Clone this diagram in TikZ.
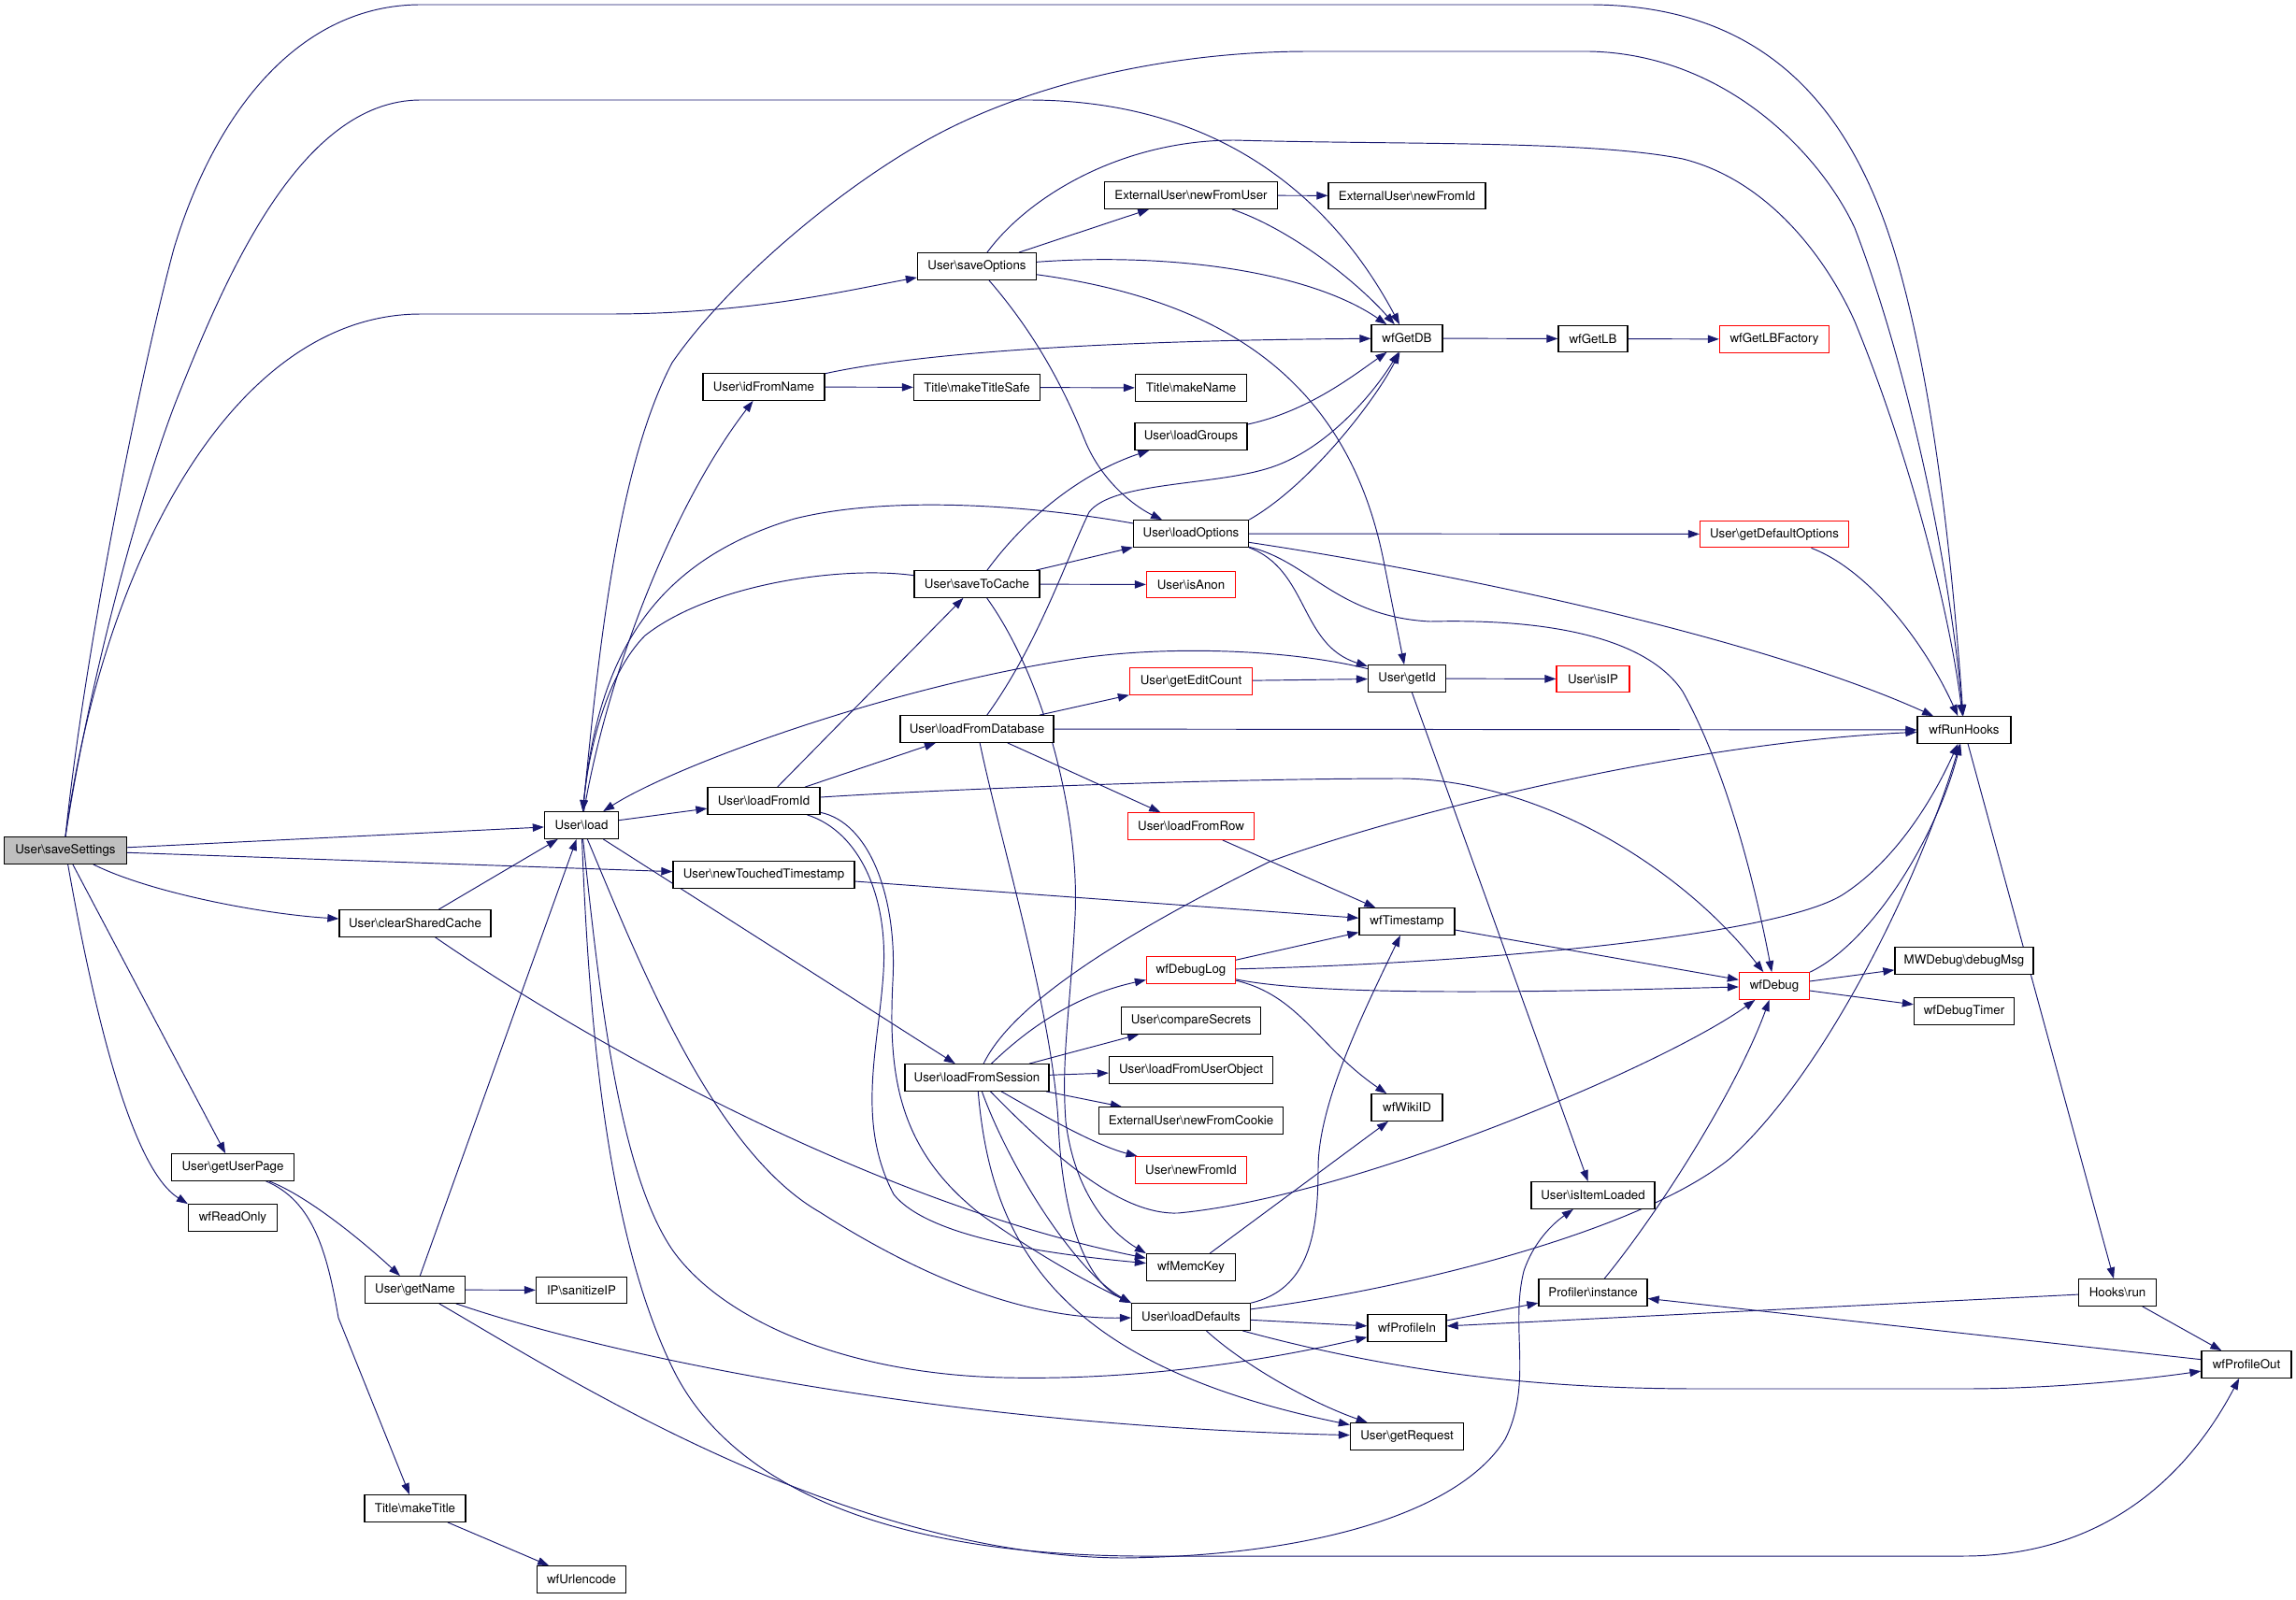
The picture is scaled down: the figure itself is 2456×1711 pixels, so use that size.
\documentclass[tikz,border=0pt]{standalone}
\usepackage{fontspec}
\setmainfont{TeX Gyre Heros}
\usetikzlibrary{arrows.meta,backgrounds}
\definecolor{edgeblue}{HTML}{191970}
\definecolor{boxred}{HTML}{FF0000}
\definecolor{rootgrey}{HTML}{BFBFBF}
\newcommand{\bksl}{\textbackslash}
\tikzset{
  fn/.style={draw=black, line width=1.3pt, fill=white, minimum height=28.5pt, inner sep=1pt, font=\fontsize{13.3}{16}\selectfont},
  fntrunc/.style={fn, draw=boxred},
  fnroot/.style={fn, fill=rootgrey},
  call/.style={edgeblue, line width=0.95pt, -{Triangle[length=12pt,width=8.5pt]}},
}
\begin{document}
\begin{tikzpicture}[x=1pt, y=-1pt]
\useasboundingbox (0,0) rectangle (2456,1711);
% functions, one column per call depth
\node[fnroot, minimum width=131pt] (saveSettings) at (70,910) {User\bksl saveSettings};
\node[fn, minimum width=131pt] (getUserPage) at (249,1249) {User\bksl getUserPage};
\node[fn, minimum width=95pt] (wfReadOnly) at (249,1303) {wfReadOnly};
\node[fn, minimum width=162pt] (clearSharedCache) at (444,988) {User\bksl clearSharedCache};
\node[fn, minimum width=107pt] (getName) at (444,1380) {User\bksl getName};
\node[fn, minimum width=108pt] (makeTitle) at (444,1614) {Title\bksl makeTitle};
\node[fn, minimum width=79pt] (load) at (622,883) {User\bksl load};
\node[fn, minimum width=97pt] (sanitizeIP) at (622,1380.5) {IP\bksl sanitizeIP};
\node[fn, minimum width=95pt] (wfUrlencode) at (622,1690) {wfUrlencode};
\node[fn, minimum width=130pt] (idFromName) at (817,414) {User\bksl idFromName};
\node[fn, minimum width=120pt] (loadFromId) at (817,857) {User\bksl loadFromId};
\node[fn, minimum width=194pt] (newTouchedTimestamp) at (817,936) {User\bksl newTouchedTimestamp};
\node[fn, minimum width=127pt] (saveOptions) at (1045,285) {User\bksl saveOptions};
\node[fn, minimum width=135pt] (makeTitleSafe) at (1045,414.5) {Title\bksl makeTitleSafe};
\node[fn, minimum width=134pt] (saveToCache) at (1045,625) {User\bksl saveToCache};
\node[fn, minimum width=164pt] (loadFromDatabase) at (1045,780) {User\bksl loadFromDatabase};
\node[fn, minimum width=154pt] (loadFromSession) at (1045,1153) {User\bksl loadFromSession};
\node[fn, minimum width=185pt] (newFromUser) at (1274,209) {ExternalUser\bksl newFromUser};
\node[fn, minimum width=119pt] (makeName) at (1274,415) {Title\bksl makeName};
\node[fn, minimum width=120pt] (loadGroups) at (1274,467) {User\bksl loadGroups};
\node[fn, minimum width=123pt] (loadOptions) at (1274,571) {User\bksl loadOptions};
\node[fntrunc, minimum width=95pt] (isAnon) at (1274,625.5) {User\bksl isAnon};
\node[fntrunc, minimum width=131pt] (getEditCount) at (1274,729) {User\bksl getEditCount};
\node[fntrunc, minimum width=135pt] (loadFromRow) at (1274,884) {User\bksl loadFromRow};
\node[fntrunc, minimum width=95pt] (wfDebugLog) at (1274,1038) {wfDebugLog};
\node[fn, minimum width=149pt] (compareSecrets) at (1274,1092) {User\bksl compareSecrets};
\node[fn, minimum width=175pt] (loadFromUserObject) at (1274,1145) {User\bksl loadFromUserObject};
\node[fn, minimum width=197pt] (newFromCookie) at (1274,1199) {ExternalUser\bksl newFromCookie};
\node[fntrunc, minimum width=119pt] (newFromIdU) at (1274,1252) {User\bksl newFromId};
\node[fn, minimum width=95pt] (wfMemcKey) at (1274,1356) {wfMemcKey};
\node[fn, minimum width=127pt] (loadDefaults) at (1274,1409) {User\bksl loadDefaults};
\node[fn, minimum width=168pt] (extNewFromId) at (1505,209.5) {ExternalUser\bksl newFromId};
\node[fn, minimum width=76pt] (wfGetDB) at (1505,362) {wfGetDB};
\node[fn, minimum width=83pt] (getId) at (1505,726) {User\bksl getId};
\node[fn, minimum width=102pt] (wfTimestamp) at (1505,986) {wfTimestamp};
\node[fn, minimum width=76pt] (wfWikiID) at (1505,1185) {wfWikiID};
\node[fn, minimum width=84pt] (wfProfileIn) at (1505,1421) {wfProfileIn};
\node[fn, minimum width=121pt] (getRequest) at (1505,1537) {User\bksl getRequest};
\node[fn, minimum width=74pt] (wfGetLB) at (1704,362.5) {wfGetLB};
\node[fntrunc, minimum width=78pt] (isIP) at (1704,726.5) {User\bksl isIP};
\node[fn, minimum width=132pt] (isItemLoaded) at (1704,1279) {User\bksl isItemLoaded};
\node[fn, minimum width=116pt] (profInstance) at (1704,1383) {Profiler\bksl instance};
\node[fntrunc, minimum width=117pt] (wfGetLBFactory) at (1898,363) {wfGetLBFactory};
\node[fntrunc, minimum width=159pt] (getDefaultOptions) at (1898,571.5) {User\bksl getDefaultOptions};
\node[fntrunc, minimum width=75pt] (wfDebug) at (1898,1055) {wfDebug};
\node[fn, minimum width=100pt] (wfRunHooks) at (2101,781) {wfRunHooks};
\node[fn, minimum width=148pt] (debugMsg) at (2101,1028) {MWDebug\bksl debugMsg};
\node[fn, minimum width=107pt] (wfDebugTimer) at (2101,1082) {wfDebugTimer};
\node[fn, minimum width=83pt] (hooksRun) at (2265,1383) {Hooks\bksl run};
\node[fn, minimum width=96pt] (wfProfileOut) at (2403,1460) {wfProfileOut};

\begin{scope}[on background layer]
\fill[white] (0,0) rectangle (2456,1711);
% saveSettings
\draw[call] (saveSettings) -- (load);
\draw[call] (saveSettings) -- (newTouchedTimestamp);
\draw[call] (saveSettings) .. controls (160,955) and (280,978) .. (clearSharedCache);
\draw[call] (saveSettings) -- (getUserPage);
\draw[call] (saveSettings) .. controls (100,1080) and (140,1250) .. (wfReadOnly.north west);
\draw[call] (saveSettings.north) .. controls (110,600) and (250,336) .. (450,336) -- (650,336) .. controls (800,336) and (900,312) .. (saveOptions);
\draw[call] (saveSettings.north) .. controls (100,700) and (160,500) .. (190,425) .. controls (240,300) and (320,107) .. (450,107) -- (1100,107) .. controls (1330,107) and (1440,240) .. (wfGetDB);
\draw[call] (saveSettings.north) .. controls (90,700) and (150,400) .. (186,266) .. controls (230,120) and (320,5) .. (450,5) -- (1700,5) .. controls (1900,5) and (1990,130) .. (2034,296) .. controls (2070,430) and (2088,600) .. (wfRunHooks);
% load
\draw[call] (load) .. controls (640,700) and (660,500) .. (719,388) .. controls (780,300) and (900,200) .. (995,148) .. controls (1100,90) and (1250,55) .. (1400,55) -- (1700,55) .. controls (1850,58) and (1950,170) .. (1984,244) .. controls (2040,390) and (2085,600) .. (wfRunHooks);
\draw[call] (load) .. controls (650,720) and (720,540) .. (idFromName);
\draw[call] (load) -- (loadFromId);
\draw[call] (load) -- (loadFromSession);
\draw[call] (load) .. controls (680,1020) and (760,1230) .. (877,1297) .. controls (960,1350) and (1080,1412) .. (loadDefaults);
\draw[call] (load) .. controls (640,1050) and (660,1250) .. (719,1337) .. controls (770,1410) and (900,1470) .. (1074,1474) .. controls (1250,1478) and (1400,1445) .. (wfProfileIn);
\draw[call] (load) .. controls (630,1100) and (650,1320) .. (719,1463) .. controls (780,1590) and (950,1664) .. (1220,1665) -- (2100,1665) .. controls (2250,1665) and (2340,1580) .. (wfProfileOut);
% left columns
\draw[call] (clearSharedCache) -- (load);
\draw[call] (clearSharedCache) .. controls (650,1130) and (950,1290) .. (wfMemcKey);
\draw[call] (getUserPage) .. controls (330,1280) and (390,1330) .. (getName);
\draw[call] (getUserPage) .. controls (335,1285) and (350,1340) .. (362,1410) -- (makeTitle);
\draw[call] (makeTitle) -- (wfUrlencode);
\draw[call] (getName) -- (load);
\draw[call] (getName) -- (sanitizeIP);
\draw[call] (getName) .. controls (650,1450) and (1000,1525) .. (getRequest);
\draw[call] (getName) .. controls (600,1470) and (900,1664) .. (1200,1667) .. controls (1400,1665) and (1560,1620) .. (1610,1540) .. controls (1640,1480) and (1615,1420) .. (1630,1360) .. controls (1640,1330) and (1660,1310) .. (isItemLoaded);
\draw[call] (idFromName) .. controls (950,385) and (1100,365) .. (wfGetDB);
\draw[call] (idFromName) -- (makeTitleSafe);
\draw[call] (makeTitleSafe) -- (makeName);
% loadFromId
\draw[call] (loadFromId) -- (saveToCache);
\draw[call] (loadFromId) -- (loadFromDatabase);
\draw[call] (loadFromId) .. controls (1000,845) and (1300,833) .. (1500,833) .. controls (1650,835) and (1800,930) .. (wfDebug);
\draw[call] (loadFromId) .. controls (920,890) and (950,960) .. (945,1040) .. controls (940,1120) and (915,1200) .. (956,1278) .. controls (990,1320) and (1100,1340) .. (wfMemcKey);
\draw[call] (loadFromId) .. controls (930,880) and (960,960) .. (955,1050) .. controls (950,1150) and (960,1230) .. (1050,1300) .. controls (1120,1350) and (1180,1380) .. (loadDefaults.north west);
% loadFromDatabase
\draw[call] (loadFromDatabase) .. controls (1110,690) and (1140,600) .. (1165,548) .. controls (1190,515) and (1300,520) .. (1360,500) .. controls (1420,480) and (1470,420) .. (wfGetDB);
\draw[call] (loadFromDatabase) -- (getEditCount);
\draw[call] (loadFromDatabase) -- (wfRunHooks);
\draw[call] (loadFromDatabase) -- (loadFromRow);
\draw[call] (loadFromDatabase) .. controls (1070,900) and (1125,1080) .. (1132,1200) .. controls (1136,1300) and (1160,1370) .. (loadDefaults.north west);
% saveToCache
\draw[call] (saveToCache) .. controls (900,605) and (760,625) .. (690,680) .. controls (650,720) and (630,800) .. (load);
\draw[call] (saveToCache) .. controls (1100,550) and (1160,505) .. (loadGroups);
\draw[call] (saveToCache) -- (loadOptions);
\draw[call] (saveToCache) -- (isAnon);
\draw[call] (saveToCache) .. controls (1120,730) and (1155,880) .. (1150,980) .. controls (1145,1080) and (1135,1130) .. (1140,1200) .. controls (1150,1280) and (1190,1320) .. (wfMemcKey.north west);
% saveOptions
\draw[call] (saveOptions) .. controls (1100,210) and (1200,150) .. (1320,150) .. controls (1500,155) and (1700,150) .. (1800,170) .. controls (1900,195) and (1960,290) .. (1984,344) .. controls (2040,480) and (2085,650) .. (wfRunHooks);
\draw[call] (saveOptions) -- (newFromUser);
\draw[call] (saveOptions) .. controls (1250,270) and (1400,290) .. (wfGetDB);
\draw[call] (saveOptions) .. controls (1300,320) and (1440,400) .. (1480,600) -- (getId);
\draw[call] (saveOptions) .. controls (1110,360) and (1140,420) .. (1160,470) .. controls (1180,520) and (1220,545) .. (loadOptions);
\draw[call] (newFromUser) -- (extNewFromId);
\draw[call] (newFromUser) .. controls (1380,245) and (1450,300) .. (wfGetDB);
\draw[call] (wfGetDB) -- (wfGetLB);
\draw[call] (wfGetLB) -- (wfGetLBFactory);
\draw[call] (loadGroups) .. controls (1400,440) and (1450,400) .. (wfGetDB);
% loadOptions
\draw[call] (loadOptions) .. controls (1100,540) and (950,530) .. (850,555) .. controls (700,600) and (640,700) .. (load);
\draw[call] (loadOptions.north east) .. controls (1400,520) and (1470,430) .. (wfGetDB);
\draw[call] (loadOptions) -- (getDefaultOptions);
\draw[call] (loadOptions) .. controls (1600,620) and (1900,690) .. (wfRunHooks);
\draw[call] (loadOptions) .. controls (1400,600) and (1430,660) .. (1530,665) .. controls (1650,662) and (1760,680) .. (1800,740) .. controls (1850,830) and (1880,960) .. (wfDebug);
\draw[call] (loadOptions.south east) .. controls (1400,610) and (1390,690) .. (getId);
% getId
\draw[call] (getId) .. controls (1380,695) and (1250,690) .. (1150,705) .. controls (950,735) and (720,820) .. (load);
\draw[call] (getId) -- (isIP);
\draw[call] (getId) -- (isItemLoaded);
\draw[call] (getEditCount) -- (getId);
% timestamps
\draw[call] (newTouchedTimestamp) -- (wfTimestamp);
\draw[call] (loadFromRow) -- (wfTimestamp);
\draw[call] (wfTimestamp) -- (wfDebug);
% loadFromSession
\draw[call] (loadFromSession) .. controls (1080,1080) and (1180,1010) .. (1358,922) .. controls (1500,870) and (1800,795) .. (wfRunHooks);
\draw[call] (loadFromSession) .. controls (1100,1100) and (1150,1065) .. (wfDebugLog);
\draw[call] (loadFromSession) -- (compareSecrets);
\draw[call] (loadFromSession) -- (loadFromUserObject);
\draw[call] (loadFromSession) -- (newFromCookie);
\draw[call] (loadFromSession) .. controls (1110,1190) and (1170,1225) .. (newFromIdU);
\draw[call] (loadFromSession) .. controls (1130,1240) and (1200,1300) .. (1260,1298) .. controls (1450,1280) and (1780,1140) .. (wfDebug);
\draw[call] (loadFromSession) .. controls (1080,1250) and (1150,1360) .. (loadDefaults.north west);
\draw[call] (loadFromSession) .. controls (1060,1330) and (1130,1460) .. (getRequest);
% loadDefaults
\draw[call] (loadDefaults) .. controls (1500,1380) and (1750,1320) .. (1850,1240) .. controls (1950,1150) and (2050,950) .. (wfRunHooks);
\draw[call] (loadDefaults) -- (wfProfileIn);
\draw[call] (loadDefaults) .. controls (1500,1470) and (1650,1486) .. (1820,1486) -- (2100,1486) .. controls (2200,1486) and (2300,1475) .. (wfProfileOut);
\draw[call] (loadDefaults) .. controls (1330,1460) and (1400,1500) .. (getRequest);
\draw[call] (loadDefaults.north east) .. controls (1400,1380) and (1410,1320) .. (1410,1250) .. controls (1410,1180) and (1460,1080) .. (wfTimestamp);
\draw[call] (wfMemcKey) -- (wfWikiID);
% wfDebugLog, wfDebug
\draw[call] (wfDebugLog) -- (wfTimestamp);
\draw[call] (wfDebugLog) .. controls (1600,1030) and (1900,1000) .. (1970,958) .. controls (2030,920) and (2070,850) .. (wfRunHooks);
\draw[call] (wfDebugLog) .. controls (1420,1068) and (1700,1060) .. (wfDebug);
\draw[call] (wfDebugLog) .. controls (1390,1065) and (1410,1120) .. (wfWikiID);
\draw[call] (wfDebug.north east) .. controls (2000,1010) and (2070,900) .. (wfRunHooks);
\draw[call] (wfDebug) -- (debugMsg);
\draw[call] (wfDebug) -- (wfDebugTimer);
\draw[call] (getDefaultOptions) .. controls (2000,610) and (2060,690) .. (wfRunHooks);
% hooks and profiler
\draw[call] (wfRunHooks) -- (hooksRun);
\draw[call] (hooksRun) -- (wfProfileIn);
\draw[call] (hooksRun) -- (wfProfileOut);
\draw[call] (wfProfileIn) -- (profInstance);
\draw[call] (wfProfileOut) -- (profInstance);
\draw[call] (profInstance) .. controls (1780,1290) and (1860,1160) .. (wfDebug);
\end{scope}
\end{tikzpicture}
\end{document}
